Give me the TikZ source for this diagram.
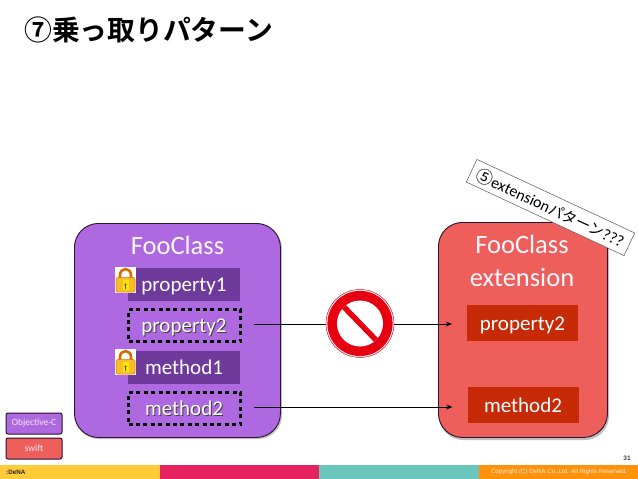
\documentclass[tikz,border=0pt]{standalone}
\usepackage{fontspec}
\setmainfont{Carlito}
\newfontfamily\cjk{Noto Sans CJK JP}
\newfontfamily\cjkb{Noto Sans CJK JP Bold}
\newfontfamily\arialf{Liberation Sans}
\usetikzlibrary{arrows.meta}
\definecolor{objc}{HTML}{AE68E0}
\definecolor{objcdark}{HTML}{6E3A9C}
\definecolor{swiftc}{HTML}{EE5F5B}
\definecolor{swiftdark}{HTML}{C62A06}
\definecolor{edgedark}{HTML}{2A1230}
\definecolor{signred}{HTML}{E60012}
\tikzset{
  x=1pt,y=-1pt,
  bigbox/.style={draw=edgedark,line width=0.9pt,rounded corners=24pt,anchor=north west,inner sep=0pt},
  member/.style={anchor=center,inner sep=0pt,minimum width=112pt,text=white,text height=16pt,text depth=2pt,font=\fontsize{21}{21}\selectfont},
  lockedm/.style={member,fill=objcdark,minimum height=33pt},
  dashm/.style={member,draw=black,line width=2.2pt,dash pattern=on 4pt off 3.4pt,minimum height=32pt,minimum width=112pt},
  swiftm/.style={member,fill=swiftdark,minimum height=36pt,minimum width=111pt},
  shadowt/.style={member,minimum width=0pt,text=black!75},
  titlet/.style={text=white!95!objc,font=\fontsize{26.5}{33}\selectfont,align=center},
  legend/.style={draw=edgedark,line width=1pt,rounded corners=2pt,minimum width=56pt,minimum height=21pt,inner sep=0pt,text=white!85!objc,font=\fontsize{9.5}{11}\selectfont},
  conn/.style={draw=black,line width=0.8pt,-{Stealth[length=6pt,width=5pt]}},
  band/.style={anchor=north west,minimum height=13.5pt,inner sep=0pt},
  lockicon/.pic={
    \fill[white] (-10.5,-13) rectangle (10.5,13);
    \draw[draw=orange!85!black,line width=2.6pt] (-5.5,0) -- (-5.5,-5) arc[start angle=180,end angle=360,x radius=5.5,y radius=6] -- (5.5,0);
    \draw[fill={rgb,255:red,248;green,190;blue,40},draw=orange!85!black,line width=0.5pt,rounded corners=2pt] (-9.5,-2.5) rectangle (9.5,12);
    \fill[yellow!90!orange] (-3,0) rectangle (3,10);
    \fill[black!70] (0,4.5) circle[radius=1.2];
    \fill[black!70] (-0.6,4.5) rectangle (0.6,8.5);
  }
}
\begin{document}
\begin{tikzpicture}
\useasboundingbox (0,0) rectangle (638,479);
\fill[white] (0,0) rectangle (638,479);

% title
\node[anchor=west,inner sep=0pt,font=\fontsize{27.8}{28}\selectfont\cjkb] (title) at (24,30) {⑦乗っ取りパターン};

% large boxes
\fill[black!25,rounded corners=24pt] (75,225) rectangle (282,439);
\fill[black!25,rounded corners=24pt] (439,225) rectangle (609,440);
\node[bigbox,fill=objc,minimum width=206pt,minimum height=214pt] (foo) at (74,223) {};
\node[bigbox,fill=swiftc,minimum width=169pt,minimum height=215pt] (ext) at (438,222) {};

\node[titlet] (footitle) at (177.5,245) {FooClass};
\node[titlet] (exttitle) at (522,261) {FooClass\\extension};

% purple members
\node[lockedm] (p1) at (184,284.5) {property1};
\node[dashm] (p2) at (184.5,325.5) {};
\node[shadowt] (p2s) at (185,326) {property2};
\node[member,minimum width=0pt] (p2t) at (184,325) {property2};
\node[lockedm] (m1) at (184,367) {method1};
\node[dashm] (m2) at (184.5,408.5) {};
\node[shadowt] (m2s) at (185,409) {method2};
\node[member,minimum width=0pt] (m2t) at (184,408) {method2};

\pic at (125.5,280) {lockicon};
\pic at (125.5,362) {lockicon};

% red members
\node[swiftm] (rp2) at (522.5,323) {property2};
\node[swiftm] (rm2) at (523,405) {method2};

% connectors
\draw[conn,shorten <=12pt,shorten >=15pt] (p2.east |- rp2.west) ++(0,1) coordinate (a1) (a1) -- (a1 -| rp2.west);
\draw[conn,shorten <=12pt,shorten >=15pt] (m2.east |- rm2.west) ++(0,2) coordinate (a2) (a2) -- (a2 -| rm2.west);

% prohibition sign
\node[circle,draw=signred,line width=0.5pt,fill=white,minimum size=68pt,inner sep=0pt] (sign) at (360,323.5) {};
\fill[signred] (sign.center) circle[radius=32.6];
\fill[white] (sign.center) circle[radius=23];
\draw[signred,line width=5.5pt] (344,307) -- (376,340);

% tilted label
\node[draw=black!65,line width=0.5pt,fill=white,rotate=-25,minimum width=174pt,minimum height=25pt,inner sep=0pt,font=\fontsize{16}{17}\selectfont] (tag) at (550.5,207.5) {{\cjk\fontsize{17}{17}\selectfont ⑤}extension{\cjk\fontsize{15}{16}\selectfont パターン}???};

% legend
\node[legend,fill=objc] (lobj) at (34,423.5) {Objective-C};
\node[legend,fill=swiftc] (lswift) at (34,448.5) {swift};

% footer
\node[band,minimum width=160pt,fill={rgb,255:red,255;green,203;blue,56}] (b1) at (0,465) {};
\node[band,fill={rgb,255:red,230;green,34;blue,96},minimum width=159pt] (b2) at (160,465) {};
\node[band,fill={rgb,255:red,108;green,198;blue,192},minimum width=160pt] (b3) at (319,465) {};
\node[band,fill={rgb,255:red,255;green,146;blue,12},minimum width=159pt] (b4) at (479,465) {};
\node[anchor=west,inner sep=0pt,font=\arialf\bfseries\fontsize{6.3}{8}\selectfont,text=black!85] (logo) at (6,472.5) {:DeNA};
\node[inner sep=0pt,font=\arialf\fontsize{6.15}{7}\selectfont,text=white!85!orange] (copy) at (559,472) {Copyright (C) DeNA Co.,Ltd. All Rights Reserved.};
\node[inner sep=0pt,font=\arialf\bfseries\fontsize{6.5}{7}\selectfont,text=black!75] (page) at (627,458.5) {31};
\end{tikzpicture}
\end{document}
